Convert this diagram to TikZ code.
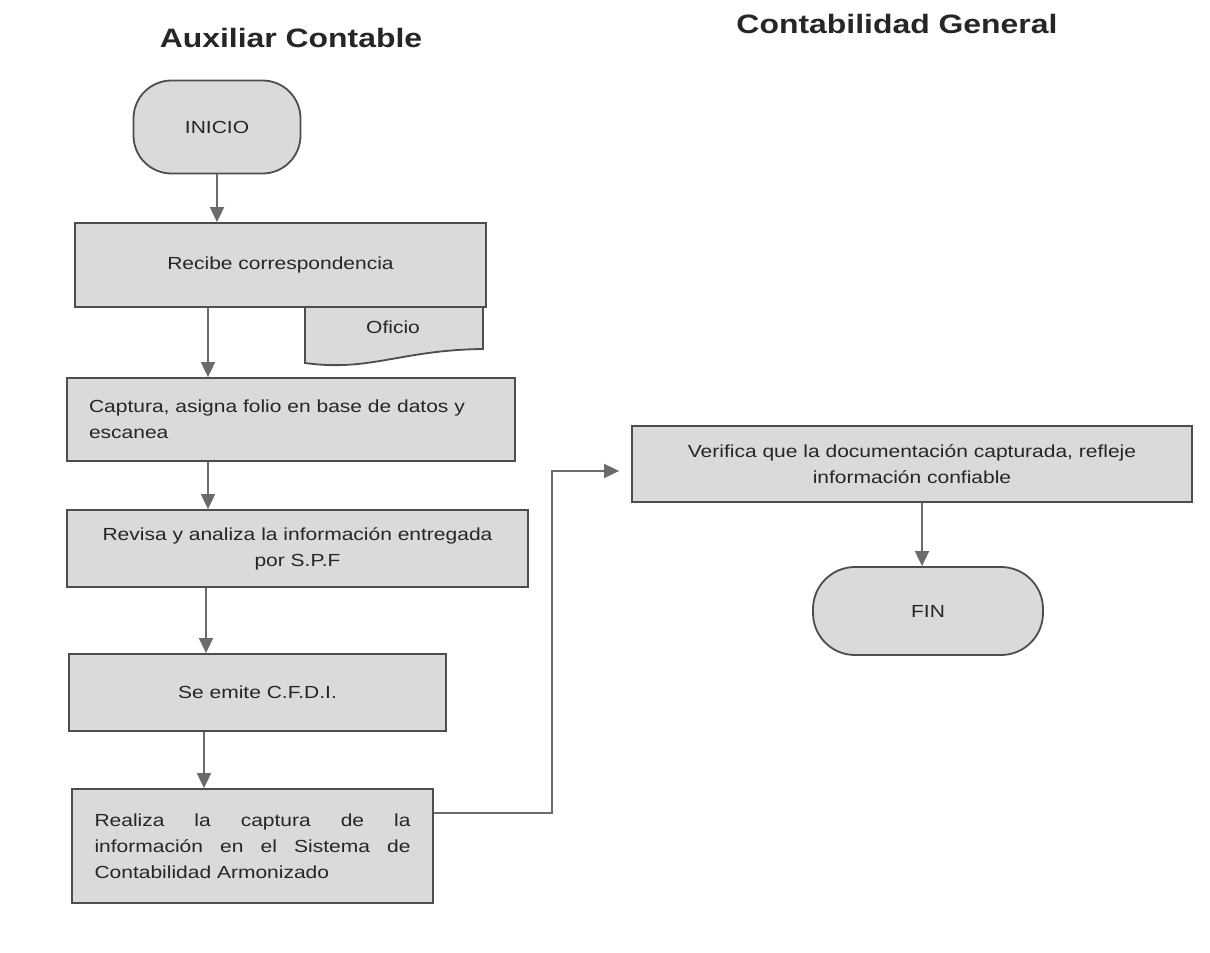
\documentclass[tikz,border=0pt]{standalone}
\usepackage{fontspec}
\setmainfont{Liberation Sans}[FakeStretch=1.2]
\usetikzlibrary{arrows.meta,calc}
\definecolor{boxfill}{HTML}{DADADA}
\definecolor{boxline}{HTML}{4D4D4D}
\definecolor{arrline}{HTML}{6B6B6B}
\definecolor{txt}{HTML}{262626}
\hyphenpenalty=10000
\exhyphenpenalty=10000
\begin{document}
\begin{tikzpicture}[x=1pt,y=-1pt,
  proc/.style={draw=boxline, fill=boxfill, line width=1.8pt, text=txt,
    font=\fontsize{17.5}{26}\selectfont, inner sep=0pt, align=center},
  term/.style={proc, rounded corners=38pt},
  ttl/.style={font=\fontsize{26.6}{30}\selectfont\bfseries, text=txt, inner sep=0pt, anchor=base},
  arr/.style={draw=arrline, line width=1.8pt, -{Triangle[length=15pt,width=14pt]}},
  docshape/.style={draw=boxline, fill=boxfill, line width=1.8pt},
]
\useasboundingbox[fill=white] (0,0) rectangle (1210,953);

% titles
\node[ttl] (t1) at (291,47) {Auxiliar Contable};
\node[ttl] (t2) at (897,33) {Contabilidad General};

% column coordinates for connectors
\coordinate (c1) at (208,0);
\coordinate (c2) at (206,0);
\coordinate (c3) at (204,0);
\coordinate (c4) at (922,0);
\coordinate (c5) at (600,471);
\coordinate (bend) at (552,813);

% start
\node[term, minimum width=167pt, minimum height=93pt] (inicio) at (217,127) {INICIO};

% document "Oficio"
\draw[docshape] (305,300) -- (483,300) -- (483,349)
  .. controls (400,350) and (370,372) .. (305,363) -- cycle;
\node[font=\fontsize{17.5}{26}\selectfont, text=txt, inner sep=0pt] (oficio) at (393,327) {Oficio};

% process boxes
\node[proc, minimum width=411pt, minimum height=84pt] (recibe) at (280.5,265) {Recibe correspondencia};
\node[proc, minimum width=448pt, minimum height=83pt, text width=404pt, align=left] (captura) at (291,419.5)
  {Captura, asigna folio en base de datos y\\escanea};
\node[proc, minimum width=461pt, minimum height=77pt] (revisa) at (297.5,548.5)
  {Revisa y analiza la información entregada\\por S.P.F};
\node[proc, minimum width=377pt, minimum height=77pt] (emite) at (257.5,692.5) {Se emite C.F.D.I.};
\node[proc, minimum width=361pt, minimum height=114pt, text width=316pt, align=justify] (realiza) at (252.5,846)
  {Realiza la captura de la información en el Sistema de Contabilidad Armonizado};
\node[proc, minimum width=560pt, minimum height=76pt] (verifica) at (912,464)
  {Verifica que la documentación capturada, refleje\\información confiable};
\node[term, rounded corners=42pt, minimum width=230pt, minimum height=88pt] (fin) at (928,611) {FIN};

% connectors
\draw[arr] (inicio.south) -- (inicio.south |- recibe.north);
\draw[arr] (recibe.south -| c1) -- (captura.north -| c1);
\draw[arr] (captura.south -| c1) -- (revisa.north -| c1);
\draw[arr] (revisa.south -| c2) -- (emite.north -| c2);
\draw[arr] (emite.south -| c3) -- (realiza.north -| c3);
\draw[arr, shorten >=12pt] (realiza.east |- bend) -- (bend) |- (verifica.west |- c5);
\draw[arr] (verifica.south -| c4) -- (fin.north -| c4);
\end{tikzpicture}
\end{document}
